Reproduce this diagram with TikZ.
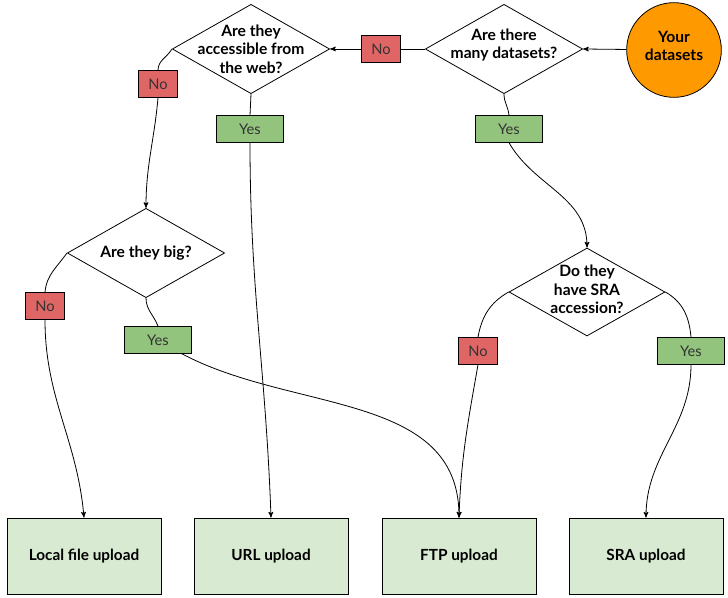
\documentclass[tikz,border=0pt]{standalone}
\usepackage{fontspec}
\setmainfont{Lato}
\usepackage{tikz}
\usetikzlibrary{arrows,shapes.geometric}

\definecolor{noRed}{HTML}{E06666}
\definecolor{yesGreen}{HTML}{93C47D}
\definecolor{uploadGreen}{HTML}{D9EAD3}
\definecolor{startOrange}{HTML}{FF9900}
\definecolor{answerText}{HTML}{333333}

\begin{document}
\begin{tikzpicture}[x=0.75pt,y=-0.75pt,>=stealth',line width=0.6pt,
    decision/.style={diamond, draw, fill=white, inner sep=0pt, minimum width=118pt, minimum height=67pt},
    question/.style={font=\bfseries\fontsize{11.7}{14}\selectfont, align=center},
    answer/.style={draw, inner sep=0pt, minimum height=20pt, font=\fontsize{11}{13}\selectfont, text=answerText},
    no/.style={answer, fill=noRed, minimum width=29.5pt},
    yes/.style={answer, fill=yesGreen, minimum width=50.5pt},
    upload/.style={draw, fill=uploadGreen, minimum width=115.5pt, minimum height=57pt, font=\bfseries\fontsize{11.5}{14}\selectfont}]
        \useasboundingbox (0,0) rectangle (728,598);

        % start and questions
        \node[circle, draw, fill=startOrange, minimum size=71pt, inner sep=0pt] (you) at (674,50) {};
        \node[question, yshift=3pt] at (you) {Your\\datasets};
        \node[decision] (many) at (504,49) {};
        \node[question, yshift=3pt] at (many) {Are there\\many datasets?};
        \node[decision] (web) at (251,49) {};
        \node[question] at (web) {Are they\\accessible from\\the web?};
        \node[decision] (big) at (146,253) {};
        \node[question] at (big) {Are they big?};
        \node[decision, minimum width=117pt, minimum height=66pt] (srq) at (587,292) {};
        \node[question, yshift=2pt] at (srq) {Do they\\have SRA\\accession?};

        % answers
        \node[no] (noMany) at (381,49) {No};
        \node[no] (noWeb) at (158,84) {No};
        \node[yes] (yesWeb) at (250,129) {Yes};
        \node[yes] (yesMany) at (509,129) {Yes};
        \node[no] (noBig) at (45,306) {No};
        \node[yes] (yesBig) at (158,340) {Yes};
        \node[no] (noSra) at (478,351) {No};
        \node[yes] (yesSra) at (691,351) {Yes};

        % uploads
        \node[upload] (local) at (84,556) {Local file upload};
        \node[upload] (url) at (271,556) {URL upload};
        \node[upload] (ftp) at (459,556) {FTP upload};
        \node[upload] (sra) at (646,556) {SRA upload};

        \path[->] (you) edge (many.east);
        \draw (many.west) -- (noMany.east);
        \draw[->] (noMany.west) -- (web.east);

        \draw (web.west) to[out=240,in=90] (noWeb.north);
        \draw[->] (noWeb.south) to[out=-95,in=90] (big.north);
        \draw (web.south) -- (yesWeb.north);
        \draw[->] (yesWeb.south) to[out=-90,in=92] (url.north);

        \draw (many.south) to[out=-90,in=95] (yesMany.north);
        \draw[->] (yesMany.south) to[out=-60,in=90] (srq.north);

        \draw (big.west) to[out=235,in=85] (noBig.north);
        \draw[->] (noBig.south) to[out=-90,in=95] (local.north);
        \draw (big.south) to[out=-90,in=110] (yesBig.north);
        \draw[->] (yesBig.-30) to[out=-28,in=90] (ftp.north);

        \draw (srq.west) to[out=210,in=80] (noSra.north);
        \draw[->] (noSra.south) to[out=-100,in=88] (ftp.north);
        \draw (srq.east) to[out=-30,in=95] (yesSra.north);
        \draw[->] (yesSra.south) to[out=-90,in=90] (sra.north);
      \end{tikzpicture}
\end{document}
